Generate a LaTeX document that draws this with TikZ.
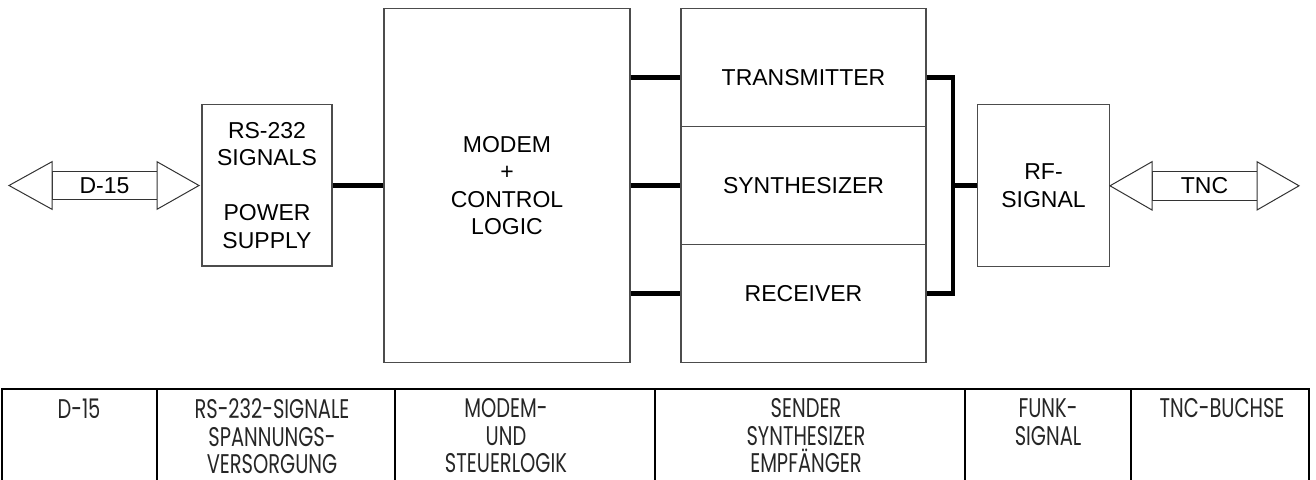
\documentclass[tikz,border=0pt]{standalone}
\usepackage{fontspec}
\setmainfont{Liberation Sans}
\newfontfamily\tablefont{Poppins}[FakeStretch=0.72]
\begin{document}
\begin{tikzpicture}[x=1pt,y=-1pt,
  box/.style={draw=black!70, line width=1.2pt, inner sep=0pt, align=center,
    font=\fontsize{23}{27.5}\selectfont},
  lbl/.style={inner sep=0pt, font=\fontsize{23}{27.5}\selectfont},
  bus/.style={line width=4.7pt, black},
  arr/.style={draw=black!80, line width=1pt},
  tline/.style={line width=2pt, black},
  ttext/.style={inner sep=0pt, anchor=north, align=center,
    font=\tablefont\fontsize{27}{27.5}\selectfont, text=black!85}
]
\useasboundingbox (0,0) rectangle (1316,479);

% main blocks
\node[box, minimum width=130pt, minimum height=161.7pt] (rs) at (267,185.2)
  {RS-232\\SIGNALS\\[27.5pt]POWER\\SUPPLY};
\node[box, minimum width=246pt, minimum height=354.4pt] (modem) at (507,185.5)
  {MODEM\\+\\CONTROL\\LOGIC};
\node[box, minimum width=245pt, minimum height=118.1pt] (tx) at (803.5,67.3) {};
\node[box, minimum width=245pt, minimum height=118.1pt] (syn) at (803.5,185.4) {};
\node[box, minimum width=245pt, minimum height=118.1pt] (rx) at (803.5,303.5) {};
\node[lbl] (txl) at (803.5,77.5) {TRANSMITTER};
\node[lbl] (synl) at (803.5,185.4) {SYNTHESIZER};
\node[lbl] (rxl) at (803.5,293.5) {RECEIVER};
\node[box, minimum width=131.6pt, minimum height=162.4pt] (rf) at (1043.5,185.5)
  {RF-\\SIGNAL};

% buses
\draw[bus] (rs.east |- modem.center) -- (modem.west);
\draw[bus] (modem.east |- txl) -- (tx.west |- txl);
\draw[bus] (modem.east |- synl) -- (syn.west |- synl);
\draw[bus] (modem.east |- rxl) -- (rx.west |- rxl);
\coordinate (jn) at (953,185.5);
\draw[bus] (tx.east |- txl) -| (jn) |- (rx.east |- rxl);
\draw[bus] (jn) -- (rf.west);

% D-15 double arrow
\draw[arr] (52,171.7) rectangle (157,199.3);
\draw[arr, fill=white] (52,161.7) -- (9,185.5) -- (52,209.3) -- cycle;
\draw[arr, fill=white] (157,161.7) -- (199,185.5) -- (157,209.3) -- cycle;
\node[lbl] (d15) at (104.5,185.5) {D-15};

% TNC double arrow
\draw[arr] (1152,171.7) rectangle (1257,200);
\draw[arr, fill=white] (1152,161.7) -- (1110,185.8) -- (1152,210) -- cycle;
\draw[arr, fill=white] (1257,161.7) -- (1299,185.8) -- (1257,210) -- cycle;
\node[lbl] (tnc) at (1204.5,185.8) {TNC};

% table
\draw[tline] (2,481) -- (2,389) -- (1309,389) -- (1309,481);
\foreach \x in {157,395,655,965,1131} \draw[tline] (\x,389) -- (\x,481);
\node[ttext] (c1) at (79,398.5) {D-15};
\node[ttext] (c2) at (272,398.5) {RS-232-SIGNALE\\SPANNUNGS-\\VERSORGUNG};
\node[ttext] (c3) at (506,398.5) {MODEM-\\UND\\STEUERLOGIK};
\node[ttext] (c4) at (806,398.5) {SENDER\\SYNTHESIZER\\EMPFÄNGER};
\node[ttext] (c5) at (1048,398.5) {FUNK-\\SIGNAL};
\node[ttext] (c6) at (1222,398.5) {TNC-BUCHSE};
\end{tikzpicture}
\end{document}
